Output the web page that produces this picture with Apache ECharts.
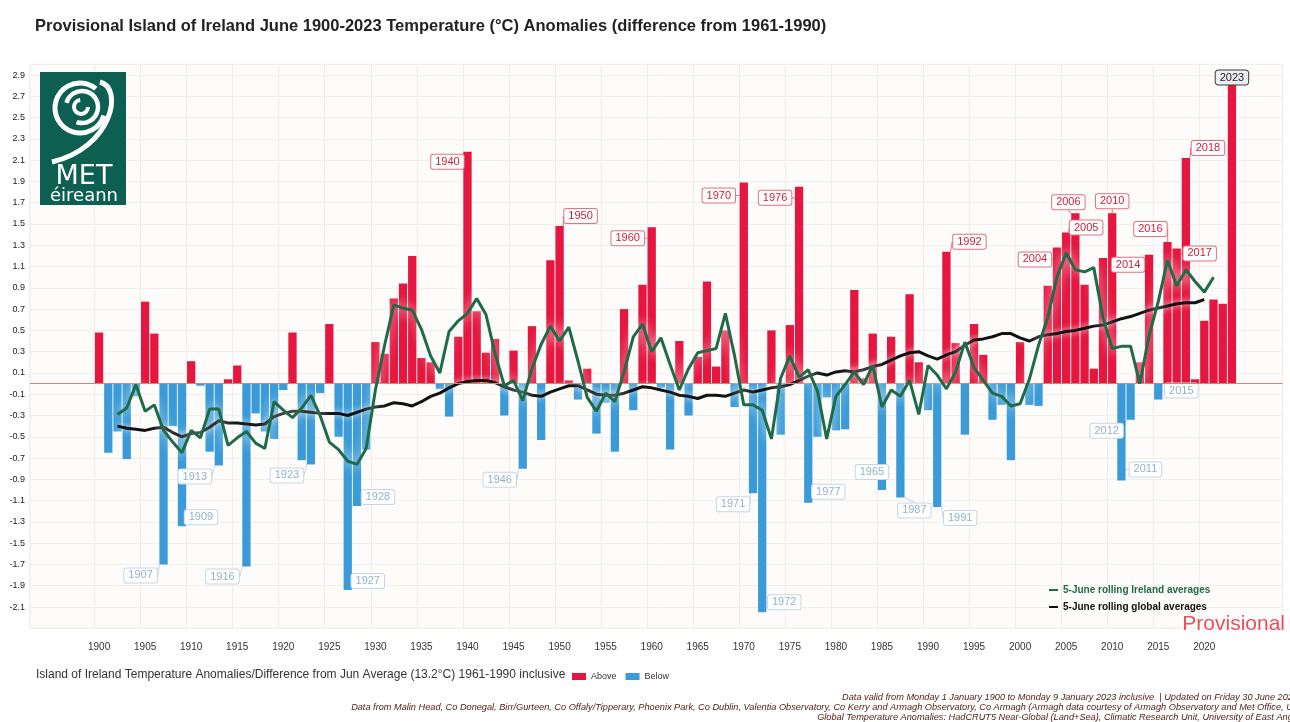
<!DOCTYPE html>
<html><head><meta charset="utf-8">
<script src="https://cdn.jsdelivr.net/npm/echarts@6/dist/echarts.min.js"></script>
<style>html,body{margin:0;padding:0;background:#fff}#c{width:1290px;height:722px}</style>
</head><body><div id="c"></div>
<script>
// ---------------- DATA ----------------
const firstYear = 1900;
// June anomalies (°C) 1900..2023
const anomalies = [
  0.48, -0.65, -0.45, -0.71, -0.12, 0.77, 0.47, -1.70, -0.40, -1.34,
  0.21, -0.02, -0.64, -0.77, 0.04, 0.17, -1.72, -0.28, -0.45, -0.52,
  -0.06, 0.48, -0.72, -0.76, -0.09, 0.56, -0.50, -1.94, -1.15, -0.62,
  0.39, 0.28, 0.80, 0.94, 1.20, 0.24, 0.20, -0.05, -0.31, 0.44,
  2.18, 0.68, 0.29, 0.42, -0.30, 0.31, -0.80, 0.54, -0.53, 1.16,
  1.48, 0.03, -0.15, 0.14, -0.47, -0.18, -0.64, 0.70, -0.25, 0.93,
  1.47, -0.04, -0.62, 0.40, -0.30, 0.25, 0.96, 0.16, 0.50, -0.22,
  1.89, -1.03, -2.15, 0.50, -0.48, 0.55, 1.85, -1.12, -0.50, -0.13,
  -0.44, -0.43, 0.88, 0.05, 0.47, -1.00, 0.44, -1.07, 0.84, 0.20,
  -0.25, -1.16, 1.24, 0.38, -0.48, 0.56, 0.27, -0.34, -0.20, -0.72,
  0.39, -0.20, -0.21, 0.92, 1.28, 1.42, 1.60, 0.93, 0.14, 1.18,
  1.60, -0.91, -0.34, 0.20, 1.21, -0.15, 1.33, 1.27, 2.12, 0.04,
  0.59, 0.79, 0.75, 2.82
];
// 5-June rolling Ireland averages, 1902..2021
const irelandStart = 1902;
const irelandRolling = [
  -0.29, -0.23, -0.01, -0.26, -0.20, -0.44, -0.55, -0.65, -0.44, -0.51,
  -0.24, -0.24, -0.58, -0.51, -0.45, -0.56, -0.61, -0.17, -0.25, -0.32,
  -0.23, -0.11, -0.30, -0.55, -0.62, -0.73, -0.76, -0.61, -0.06, 0.36,
  0.74, 0.71, 0.69, 0.51, 0.26, 0.10, 0.49, 0.59, 0.66, 0.80,
  0.65, 0.28, -0.02, 0.03, -0.16, 0.14, 0.37, 0.54, 0.40, 0.53,
  0.21, -0.13, -0.26, -0.09, -0.17, 0.11, 0.44, 0.56, 0.30, 0.43,
  0.18, -0.06, 0.14, 0.29, 0.31, 0.33, 0.66, 0.26, -0.20, -0.20,
  -0.25, -0.52, 0.05, 0.26, 0.06, 0.13, -0.07, -0.52, -0.12, -0.01,
  0.11, -0.01, 0.17, -0.22, -0.06, -0.12, 0.03, -0.29, 0.17, 0.08,
  -0.05, 0.11, 0.39, 0.15, 0.03, -0.09, -0.12, -0.21, -0.19, 0.04,
  0.36, 0.62, 1.00, 1.23, 1.07, 1.05, 1.09, 0.62, 0.33, 0.35,
  0.35, 0.00, 0.45, 0.77, 1.16, 0.92, 1.07, 0.96, 0.86, 1.00
];
// 5-June rolling global averages, 1902..2020
const globalStart = 1902;
const globalRolling = [
  -0.40, -0.42, -0.43, -0.44, -0.42, -0.41, -0.46, -0.50, -0.47, -0.46,
  -0.41, -0.35, -0.37, -0.37, -0.38, -0.39, -0.38, -0.31, -0.28, -0.26,
  -0.26, -0.27, -0.28, -0.28, -0.28, -0.30, -0.27, -0.24, -0.22, -0.21,
  -0.18, -0.19, -0.21, -0.17, -0.12, -0.09, -0.04, 0.00, 0.02, 0.03,
  0.03, 0.01, -0.03, -0.06, -0.08, -0.11, -0.12, -0.08, -0.05, -0.02,
  -0.02, -0.06, -0.10, -0.11, -0.11, -0.09, -0.06, -0.03, -0.04, -0.06,
  -0.08, -0.11, -0.12, -0.14, -0.11, -0.11, -0.12, -0.09, -0.06, -0.08,
  -0.06, -0.04, -0.03, -0.01, 0.03, 0.07, 0.10, 0.08, 0.11, 0.12,
  0.11, 0.13, 0.16, 0.18, 0.22, 0.26, 0.29, 0.30, 0.26, 0.23,
  0.27, 0.30, 0.36, 0.41, 0.42, 0.44, 0.47, 0.47, 0.43, 0.40,
  0.44, 0.46, 0.47, 0.49, 0.50, 0.52, 0.54, 0.55, 0.58, 0.61,
  0.63, 0.66, 0.69, 0.71, 0.73, 0.75, 0.76, 0.76, 0.79
];
const yTickLabels = ['2.9','2.7','2.5','2.3','2.1','1.9','1.7','1.5','1.3','1.1','0.9','0.7','0.5','0.3','0.1',
  '-0.1','-0.3','-0.5','-0.7','-0.9','-1.1','-1.3','-1.5','-1.7','-1.9','-2.1'];
const xTickYears = [1900,1905,1910,1915,1920,1925,1930,1935,1940,1945,1950,1955,1960,1965,1970,1975,1980,1985,1990,1995,2000,2005,2010,2015,2020];
// annotated bars: year -> label text (as printed on the original)
const labelTexts = {
  1940:'1940',1950:'1950',1960:'1960',1970:'1970',1976:'1976',1992:'1992',2004:'2004',2005:'2005',
  2006:'2006',2010:'2010',2014:'2014',2016:'2016',2017:'2017',2018:'2018',2023:'2023',
  1907:'1907',1909:'1909',1913:'1913',1916:'1916',1923:'1923',1927:'1927',1928:'1928',1946:'1946',
  1971:'1971',1972:'1972',1977:'1977',1985:'1965',1987:'1987',1991:'1991',2011:'2011',2012:'2012',2015:'2015'
};

// ---------------- LAYOUT / STYLE ----------------
const labelOffsets = {
  1940:[-20,10],1950:[21,-10],1960:[-24,11],1970:[-25,13],1976:[-24,11],1992:[23,-10],2004:[-22,12],
  2005:[20,-5],2006:[-7,-11],2010:[0,-12],2014:[-21,10],2016:[-17,-13],2017:[23,5],2018:[22,-10],2023:[0,-6],
  1907:[-23,11],1909:[19,-9],1913:[-24,11],1916:[-24,10],1923:[-24,11],1927:[20,-9],1928:[21,-9],1946:[-23,11],
  1971:[-20,11],1972:[22,-10],1977:[20,-11],1985:[-10,-18],1987:[14,13],1991:[23,11],2011:[24,-11],2012:[-24,11],2015:[23,-9]
};
const padBefore = 7, padAfter = 5;
const FONT = "'Liberation Sans Narrow','Liberation Sans',Arial,sans-serif";
const FONTW = "'Liberation Sans',Arial,sans-serif";
const LOGOFONT = "'DejaVu Sans',Verdana,sans-serif";
const RED = '#e5163f', BLUE = '#3a9bd8';

const lastYear = firstYear + anomalies.length - 1;
const axisYears = [];
for (let y = firstYear - padBefore; y <= lastYear + padAfter; y++) axisYears.push(String(y));

function labelStyle(year, positive) {
  const special = year === 2023;
  return {
    show: true,
    formatter: labelTexts[year],
    fontFamily: FONTW,
    fontSize: 11,
    color: special ? '#222' : (positive ? '#d21c38' : '#93b2c9'),
    backgroundColor: special ? '#eceef1' : '#ffffff',
    borderColor: special ? '#3a3a3a' : (positive ? '#e5707e' : '#c6d7e4'),
    borderWidth: 1,
    borderRadius: special ? 3 : 2,
    padding: [2, 4, 1, 4]
  };
}
function barData(positive) {
  return axisYears.map(ys => {
    const y = +ys, i = y - firstYear;
    if (i < 0 || i >= anomalies.length) return '-';
    const v = anomalies[i];
    if (positive ? !(v > 0) : !(v < 0)) return '-';
    if (labelTexts[y]) return { value: v, label: labelStyle(y, positive) };
    return v;
  });
}
function lineData(arr, start) {
  return axisYears.map(ys => {
    const i = +ys - start;
    return (i >= 0 && i < arr.length) ? arr[i] : '-';
  });
}
function makeLayout(positive) {
  return function (p) {
    const year = +axisYears[p.dataIndex];
    const off = labelOffsets[year];
    if (!off) return {};
    const r = p.rect;
    const endY = positive ? r.y : r.y + r.height;
    return { x: r.x + r.width / 2 + off[0], y: endY + off[1], align: 'center', verticalAlign: 'middle' };
  };
}

const chart = echarts.init(document.getElementById('c'), null, { renderer: 'canvas' });
chart.setOption({
  animation: false,
  backgroundColor: '#ffffff',
  title: {
    text: 'Provisional Island of Ireland June 1900-2023 Temperature (°C) Anomalies (difference from 1961-1990)',
    left: 30, top: 13,
    textStyle: { fontFamily: FONT, fontSize: 16.5, fontWeight: 'bold', color: '#222' }
  },
  grid: {
    left: 30, right: 7.4, top: 64.4, height: 563.9,
    show: true, backgroundColor: '#fdfcfa', borderColor: '#e9e5e1', borderWidth: 1
  },
  legend: [
    {
      data: [
        { name: '5-June rolling Ireland averages', textStyle: { color: '#1f6b48' } },
        { name: '5-June rolling global averages', textStyle: { color: '#111' } }
      ],
      orient: 'vertical', left: 1044, top: 580, icon: 'rect', itemWidth: 9, itemHeight: 2, itemGap: 7,
      textStyle: { fontFamily: FONT, fontSize: 10, fontWeight: 'bold' }
    },
    {
      data: ['Above', 'Below'], left: 567, top: 667, icon: 'rect', itemWidth: 14, itemHeight: 7, itemGap: 9,
      textStyle: { fontFamily: FONT, fontSize: 9, color: '#333' }
    }
  ],
  xAxis: {
    type: 'category', data: axisYears, boundaryGap: true,
    axisLine: { show: true, lineStyle: { color: '#e2ddd8' } },
    axisTick: { show: false },
    axisLabel: {
      interval: (idx, val) => xTickYears.includes(+val),
      fontFamily: FONT, fontSize: 10, color: '#333', margin: 14
    },
    splitLine: { show: true, interval: (idx, val) => xTickYears.includes(+val), lineStyle: { color: '#f1eeea' } }
  },
  yAxis: {
    type: 'value', min: -2.3, max: 3.0, interval: 0.2,
    axisLine: { show: false }, axisTick: { show: false },
    axisLabel: {
      formatter: v => { const s = (Math.round(v * 10) / 10).toFixed(1); return yTickLabels.includes(s) ? s : ''; },
      fontFamily: FONT, fontSize: 9, color: '#222', margin: 5
    },
    splitLine: { show: true, lineStyle: { color: '#f2efeb' } }
  },
  series: [
    {
      name: 'Above', type: 'bar', data: barData(true), barGap: '-100%', barCategoryGap: '10%',
      itemStyle: { color: RED }, z: 2,
      labelLayout: makeLayout(true),
      labelLine: { show: true, lineStyle: { color: '#e5707e', width: 1 } },
      markLine: {
        silent: true, symbol: 'none', label: { show: false },
        lineStyle: { color: '#c98877', width: 1.2, type: 'solid' },
        data: [{ yAxis: 0 }]
      }
    },
    {
      name: 'Below', type: 'bar', data: barData(false), barGap: '-100%', barCategoryGap: '10%',
      itemStyle: { color: BLUE }, z: 2,
      labelLayout: makeLayout(false),
      labelLine: { show: true, lineStyle: { color: '#c6d7e4', width: 1 } }
    },
    {
      name: '5-June rolling global averages', type: 'line', data: lineData(globalRolling, globalStart),
      symbol: 'none', z: 4, itemStyle: { color: '#111' },
      lineStyle: { color: '#111', width: 3, shadowColor: 'rgba(255,255,255,0.9)', shadowBlur: 6 }
    },
    {
      name: '5-June rolling Ireland averages', type: 'line', data: lineData(irelandRolling, irelandStart),
      symbol: 'none', z: 5, itemStyle: { color: '#1f6b48' },
      lineStyle: { color: '#1f6b48', width: 3, shadowColor: 'rgba(255,255,255,0.95)', shadowBlur: 12 }
    }
  ],
  graphic: [
    // logo
    { type: 'rect', left: 40, top: 72, shape: { width: 86, height: 133 }, style: { fill: '#0d5f51' }, z: 10 },
    { type: 'arc', shape: { cx: 80, cy: 108, r: 25, startAngle: 0.3, endAngle: 5.4 }, style: { stroke: '#fff', fill: 'none', lineWidth: 5 }, z: 11 },
    { type: 'arc', shape: { cx: 82, cy: 107, r: 16, startAngle: 3.4, endAngle: 8.2 }, style: { stroke: '#fff', fill: 'none', lineWidth: 4.5 }, z: 11 },
    { type: 'arc', shape: { cx: 81, cy: 107, r: 7, startAngle: 0, endAngle: 4.6 }, style: { stroke: '#fff', fill: 'none', lineWidth: 4 }, z: 11 },
    { type: 'bezierCurve', shape: { x1: 100, y1: 82, cpx1: 124, cpy1: 88, cpx2: 112, cpy2: 148, x2: 52, y2: 162 }, style: { stroke: '#fff', fill: 'none', lineWidth: 5 }, z: 11 },
    { type: 'text', x: 84, y: 177, style: { text: 'MET', fill: '#fff', font: '27px ' + LOGOFONT, align: 'center', verticalAlign: 'middle' }, z: 11 },
    { type: 'text', x: 84, y: 196, style: { text: 'éireann', fill: '#fff', font: '18px ' + LOGOFONT, align: 'center', verticalAlign: 'middle' }, z: 11 },
    // provisional stamp
    { type: 'text', right: 5, top: 614, style: { text: 'Provisional', fill: '#e8505f', font: '21px ' + FONTW }, z: 11 },
    // bottom caption
    { type: 'text', left: 36, top: 669, style: { text: 'Island of Ireland Temperature Anomalies/Difference from Jun Average (13.2°C) 1961-1990 inclusive', fill: '#333', font: '12px ' + FONT }, z: 11 },
    // footers
    { type: 'text', x: 1298, y: 697, style: { text: 'Data valid from Monday 1 January 1900 to Monday 9 January 2023 inclusive  | Updated on Friday 30 June 2023', fill: '#4e1a10', font: 'italic 9.2px ' + FONTW, align: 'right', verticalAlign: 'middle' }, z: 11 },
    { type: 'text', x: 1302, y: 707, style: { text: 'Data from Malin Head, Co Donegal, Birr/Gurteen, Co Offaly/Tipperary, Phoenix Park, Co Dublin, Valentia Observatory, Co Kerry and Armagh Observatory, Co Armagh (Armagh data courtesy of Armagh Observatory and Met Office, UK)', fill: '#4e1a10', font: 'italic 9.2px ' + FONTW, align: 'right', verticalAlign: 'middle' }, z: 11 },
    { type: 'text', x: 1302, y: 717, style: { text: 'Global Temperature Anomalies: HadCRUT5 Near-Global (Land+Sea), Climatic Research Unit, University of East Anglia', fill: '#4e1a10', font: 'italic 9.2px ' + FONTW, align: 'right', verticalAlign: 'middle' }, z: 11 }
  ]
});
</script></body></html>
